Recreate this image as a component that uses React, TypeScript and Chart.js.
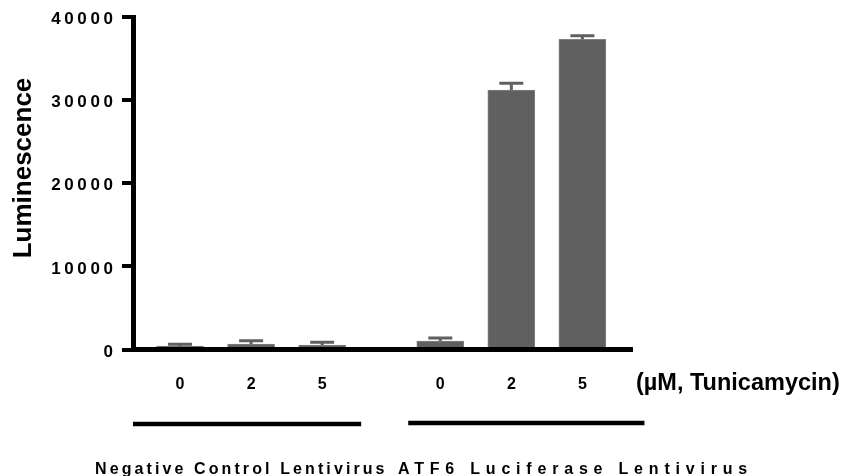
import React, { useEffect, useRef } from 'react';
import { Chart, registerables } from 'chart.js';

Chart.register(...registerables);

// ---- data ----
const doseLabels = ['0', '2', '5', '0', '2', '5'];
const xPositions = [0, 1, 2, 3.662, 4.662, 5.662];
const means = [400, 660, 540, 1020, 31220, 37320];
const errors = [220, 400, 330, 360, 800, 430];
const yTickValues = [0, 10000, 20000, 30000, 40000];
const groupLabels = ['Negative Control Lentivirus', 'ATF6 Luciferase Lentivirus'];
const groupLineStart = [-0.662, 3.211];
const groupLineEnd = [2.549, 6.535];
const unitLabel = '(µM, Tunicamycin)';
const yTitle = 'Luminescence';

const FONT = '"Liberation Sans", Arial, sans-serif';
const BAR = '#606060';

const overlay = {
  id: 'overlay',
  afterDatasetsDraw(chart: any) {
    const ctx = chart.ctx;
    const xs = chart.scales.x;
    const ys = chart.scales.y;
    ctx.save();
    ctx.strokeStyle = BAR;
    ctx.lineWidth = 3;
    for (let i = 0; i < means.length; i++) {
      const x = xs.getPixelForValue(xPositions[i]);
      const yt = ys.getPixelForValue(means[i]);
      const ye = ys.getPixelForValue(means[i] + errors[i]);
      ctx.beginPath();
      ctx.moveTo(x, yt);
      ctx.lineTo(x, ye);
      ctx.moveTo(x - 12, ye);
      ctx.lineTo(x + 12, ye);
      ctx.stroke();
    }
    ctx.restore();
  },
  afterDraw(chart: any) {
    const ctx = chart.ctx;
    const xs = chart.scales.x;
    const ys = chart.scales.y;
    ctx.save();
    ctx.fillStyle = '#000';
    // y tick labels
    ctx.font = `bold 17px ${FONT}`;
    (ctx as any).letterSpacing = '3.6px';
    ctx.textAlign = 'right';
    ctx.textBaseline = 'middle';
    for (const v of yTickValues) {
      ctx.fillText(String(v), 116.5, ys.getPixelForValue(v) + 2.5);
    }
    // group labels
    ctx.font = `bold 16px ${FONT}`;
    ctx.textAlign = 'left';
    ctx.textBaseline = 'alphabetic';
    (ctx as any).letterSpacing = '3.1px';
    ctx.fillText(groupLabels[0], 95, 474);
    (ctx as any).letterSpacing = '5.8px';
    ctx.fillText(groupLabels[1], 398, 474);
    (ctx as any).letterSpacing = '0px';
    // unit label
    ctx.font = `bold 23.5px ${FONT}`;
    ctx.textBaseline = 'middle';
    ctx.fillText(unitLabel, 636, 384);
    // y title
    ctx.save();
    ctx.translate(24, 168);
    ctx.rotate(-Math.PI / 2);
    ctx.font = `bold 26px ${FONT}`;
    ctx.textAlign = 'center';
    ctx.textBaseline = 'middle';
    ctx.fillText(yTitle, 0, 0);
    ctx.restore();
    // group lines
    ctx.strokeStyle = '#000';
    ctx.lineWidth = 4.5;
    const lineY = [424, 423];
    for (let g = 0; g < 2; g++) {
      ctx.beginPath();
      ctx.moveTo(xs.getPixelForValue(groupLineStart[g]), lineY[g]);
      ctx.lineTo(xs.getPixelForValue(groupLineEnd[g]), lineY[g]);
      ctx.stroke();
    }
    ctx.restore();
  },
};

export default function App() {
  const ref = useRef<HTMLCanvasElement>(null);
  useEffect(() => {
    if (!ref.current) return;
    const chart = new Chart(ref.current, {
      type: 'bar',
      data: {
        datasets: [
          {
            data: xPositions.map((x, i) => ({ x, y: means[i] })),
            backgroundColor: BAR,
            borderColor: '#808080',
            borderWidth: 1,
            barThickness: 47,
          } as any,
        ],
      },
      options: {
        animation: false,
        responsive: false,
        maintainAspectRatio: false,
        layout: { padding: { left: 0, top: 17, right: 214, bottom: 0 } },
        plugins: { legend: { display: false }, tooltip: { enabled: false } },
        scales: {
          x: {
            type: 'linear',
            min: -0.662,
            max: 6.36,
            offset: false,
            grid: { display: false, drawTicks: false },
            border: { display: true, color: '#000', width: 5, z: 1 } as any,
            ticks: {
              color: '#000',
              font: { family: FONT, size: 16, weight: 'bold' },
              padding: 25,
              autoSkip: false,
              maxRotation: 0,
              callback: (_v: any, i: number) => doseLabels[i],
            },
            afterBuildTicks: (s: any) => {
              s.ticks = xPositions.map((v) => ({ value: v }));
            },
            afterFit: (s: any) => {
              s.height = 476 - 349.5;
            },
          } as any,
          y: {
            min: 0,
            max: 40000,
            grid: {
              display: true,
              drawOnChartArea: false,
              drawTicks: true,
              tickLength: 11,
              lineWidth: 4,
              color: '#000',
            },
            border: { display: true, color: '#000', width: 5, z: 1 } as any,
            ticks: { display: false },
            afterBuildTicks: (s: any) => {
              s.ticks = yTickValues.map((v) => ({ value: v }));
            },
            afterFit: (s: any) => {
              s.width = 133;
            },
          } as any,
        },
      },
      plugins: [overlay],
    });
    return () => chart.destroy();
  }, []);
  return (
    <div style={{ position: 'fixed', left: 0, top: 0, width: 846, height: 476, background: '#fff' }}>
      <canvas ref={ref} width={846} height={476} />
    </div>
  );
}
